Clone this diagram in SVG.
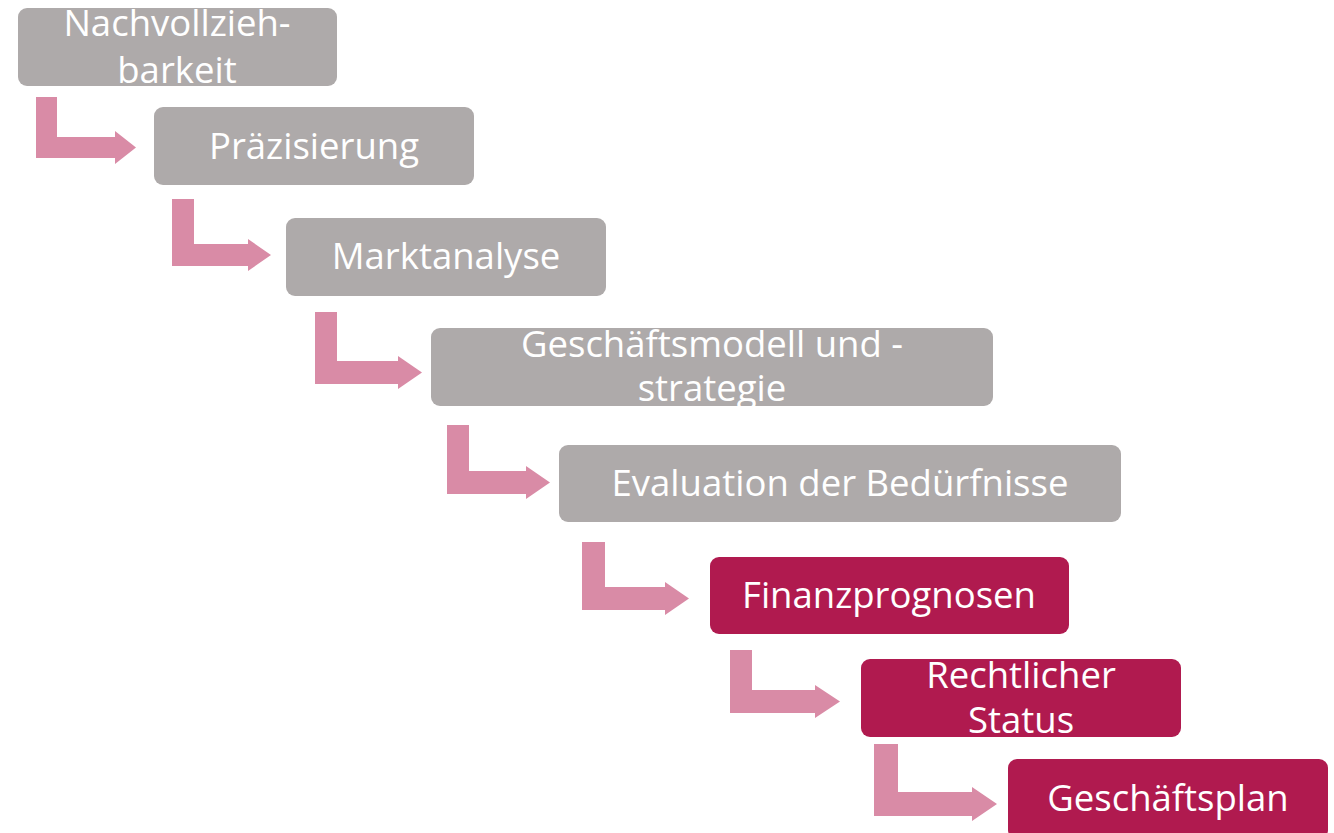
<svg xmlns="http://www.w3.org/2000/svg" width="1334" height="833" viewBox="0 0 1334 833">
  <style>
    .box-gray { fill: #aeaaaa; }
    .box-red { fill: #b01a4f; }
    .conn { fill: #d98ba6; }
    .lbl { font-family: "Open Sans", "Noto Sans", "Liberation Sans", sans-serif; font-size: 36.5px; fill: #ffffff; text-anchor: middle; }
  </style>
  <rect width="1334" height="833" fill="#ffffff"/>

  <!-- L-shaped step connectors -->
  <g id="connectors">
    <path class="conn" d="M36,97 H57 V137 H115 V131 L136,147.5 L115,164 V158 H36 Z"/>
    <path class="conn" d="M172,199 H194 V244 H248 V239 L271,255 L248,271 V266 H172 Z"/>
    <path class="conn" d="M315,312 H337 V361 H398 V356 L422,372.5 L398,389 V384 H315 Z"/>
    <path class="conn" d="M447,425 H469 V471 H526 V466 L550,482.5 L526,499 V494 H447 Z"/>
    <path class="conn" d="M582,542 H605 V587 H665 V582 L689,598.5 L665,615 V610 H582 Z"/>
    <path class="conn" d="M730,650 H752 V690 H815 V685 L840,701.5 L815,718 V713 H730 Z"/>
    <path class="conn" d="M874,744 H898 V792 H972 V787 L997,804 L972,821 V816 H874 Z"/>
  </g>

  <g id="n1">
    <rect class="box-gray" x="18" y="8" width="319" height="78" rx="9"/>
    <text class="lbl" x="177" y="36">Nachvollzieh-</text>
    <text class="lbl" x="177" y="83">barkeit</text>
  </g>
  <g id="n2">
    <rect class="box-gray" x="154" y="107" width="320" height="78" rx="9"/>
    <text class="lbl" x="314" y="159">Präzisierung</text>
  </g>
  <g id="n3">
    <rect class="box-gray" x="286" y="218" width="320" height="78" rx="9"/>
    <text class="lbl" x="446" y="269">Marktanalyse</text>
  </g>
  <g id="n4">
    <rect class="box-gray" x="431" y="328" width="562" height="78" rx="9"/>
    <text class="lbl" x="712" y="357">Geschäftsmodell und -</text>
    <text class="lbl" x="712" y="401">strategie</text>
  </g>
  <g id="n5">
    <rect class="box-gray" x="559" y="445" width="562" height="77" rx="9"/>
    <text class="lbl" x="840" y="496">Evaluation der Bedürfnisse</text>
  </g>
  <g id="n6">
    <rect class="box-red" x="710" y="557" width="359" height="77" rx="9"/>
    <text class="lbl" x="889" y="608">Finanzprognosen</text>
  </g>
  <g id="n7">
    <rect class="box-red" x="861" y="659" width="320" height="78" rx="9"/>
    <text class="lbl" x="1021" y="688">Rechtlicher</text>
    <text class="lbl" x="1021" y="733">Status</text>
  </g>
  <g id="n8">
    <rect class="box-red" x="1008" y="759" width="320" height="80" rx="9"/>
    <text class="lbl" x="1168" y="811">Geschäftsplan</text>
  </g>
</svg>
